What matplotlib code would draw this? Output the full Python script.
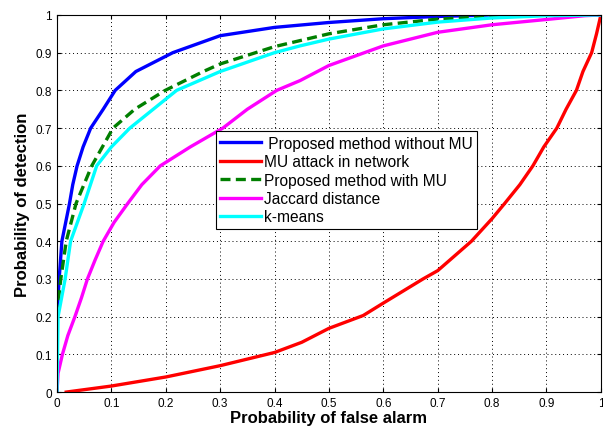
import numpy as np
import matplotlib.pyplot as plt

plt.rcParams['font.family'] = ['Liberation Sans', 'DejaVu Sans']

# ROC points
fpr_blue = [0, 0.0005, 0.002, 0.004, 0.009, 0.023, 0.029, 0.037, 0.048, 0.062, 0.085, 0.107, 0.145,
            0.213, 0.3, 0.4, 0.5, 0.6, 0.7, 0.8, 1.0]
tpr_blue = [0, 0.2, 0.25, 0.3, 0.4, 0.5, 0.55, 0.6, 0.65, 0.7, 0.75, 0.8, 0.85,
            0.9, 0.945, 0.967, 0.98, 0.99, 0.996, 1.0, 1.0]

fpr_red = [0.017, 0.1, 0.2, 0.3, 0.4, 0.45, 0.5, 0.563, 0.6, 0.673, 0.7, 0.762, 0.8, 0.823,
           0.851, 0.875, 0.895, 0.919, 0.936, 0.955, 0.967, 0.983, 0.992, 1.0]
tpr_red = [0, 0.016, 0.04, 0.07, 0.105, 0.132, 0.169, 0.203, 0.236, 0.3, 0.322, 0.4, 0.46, 0.5,
           0.55, 0.6, 0.65, 0.7, 0.75, 0.8, 0.85, 0.9, 0.95, 1.0]

fpr_green = [0, 0, 0.003, 0.007, 0.017, 0.035, 0.064, 0.103, 0.143, 0.199, 0.269, 0.3, 0.4,
             0.447, 0.5, 0.6, 0.7, 0.8, 0.9, 1.0]
tpr_green = [0, 0.2, 0.25, 0.3, 0.4, 0.5, 0.6, 0.7, 0.75, 0.8, 0.85, 0.87, 0.916,
             0.932, 0.95, 0.974, 0.989, 0.996, 1.0, 1.0]

fpr_mag = [0, 0.002, 0.01, 0.02, 0.033, 0.045, 0.056, 0.07, 0.085, 0.105, 0.13, 0.156, 0.19,
           0.245, 0.305, 0.35, 0.404, 0.447, 0.5, 0.6, 0.7, 0.8, 0.9, 0.97, 1.0]
tpr_mag = [0, 0.05, 0.1, 0.15, 0.2, 0.25, 0.3, 0.35, 0.4, 0.45, 0.5, 0.55, 0.6,
           0.65, 0.7, 0.75, 0.8, 0.826, 0.866, 0.918, 0.954, 0.974, 0.988, 0.998, 1.0]

fpr_cyan = [0, 0.001, 0.002, 0.015, 0.025, 0.05, 0.073, 0.1, 0.134, 0.177, 0.22, 0.3, 0.4,
            0.447, 0.5, 0.6, 0.7, 0.8, 0.9, 1.0]
tpr_cyan = [0, 0.1, 0.2, 0.3, 0.4, 0.5, 0.6, 0.65, 0.7, 0.75, 0.8, 0.85, 0.9,
            0.918, 0.936, 0.963, 0.981, 0.992, 0.998, 1.0]

labels = [" Proposed method without MU", "MU attack in network",
          "Proposed method with MU", "Jaccard distance", "k-means"]
ticks = np.arange(0, 1.01, 0.1)
tick_labels = ["0", "0.1", "0.2", "0.3", "0.4", "0.5", "0.6", "0.7", "0.8", "0.9", "1"]

fig = plt.figure(figsize=(6.03, 4.31), dpi=100)
ax = fig.add_axes([0.0945, 0.088, 0.902, 0.875])

lw = 2.4
ax.plot(fpr_blue, tpr_blue, color="#0000ff", lw=lw, label=labels[0])
ax.plot(fpr_red, tpr_red, color="#ff0000", lw=lw, label=labels[1])
ax.plot(fpr_green, tpr_green, color="#007f00", lw=lw, ls=(0, (3, 1.6)), label=labels[2])
ax.plot(fpr_mag, tpr_mag, color="#ff00ff", lw=lw, label=labels[3])
ax.plot(fpr_cyan, tpr_cyan, color="#00ffff", lw=lw, label=labels[4])

ax.set_xlim(0, 1)
ax.set_ylim(0, 1)
ax.set_xticks(ticks)
ax.set_yticks(ticks)
ax.set_xticklabels(tick_labels)
ax.set_yticklabels(tick_labels)
ax.tick_params(direction="in", top=True, right=True, labelsize=8.5, length=3)
ax.grid(True, color="black", ls=(0, (1, 3)), lw=0.7)
for s in ax.spines.values():
    s.set_linewidth(0.8)

ax.set_xlabel("Probability of false alarm", fontsize=12, fontweight="bold", labelpad=1)
ax.set_ylabel("Probability of detection", fontsize=12, fontweight="bold", labelpad=4)

leg = ax.legend(loc="upper left", bbox_to_anchor=(0.292, 0.692), fontsize=11.2,
                handlelength=2.6, handletextpad=0.2, labelspacing=0.22,
                borderaxespad=0, borderpad=0.3, fancybox=False, framealpha=1)
leg.get_frame().set_edgecolor("black")
leg.get_frame().set_linewidth(0.8)

fig.savefig("out.png", dpi=100)
